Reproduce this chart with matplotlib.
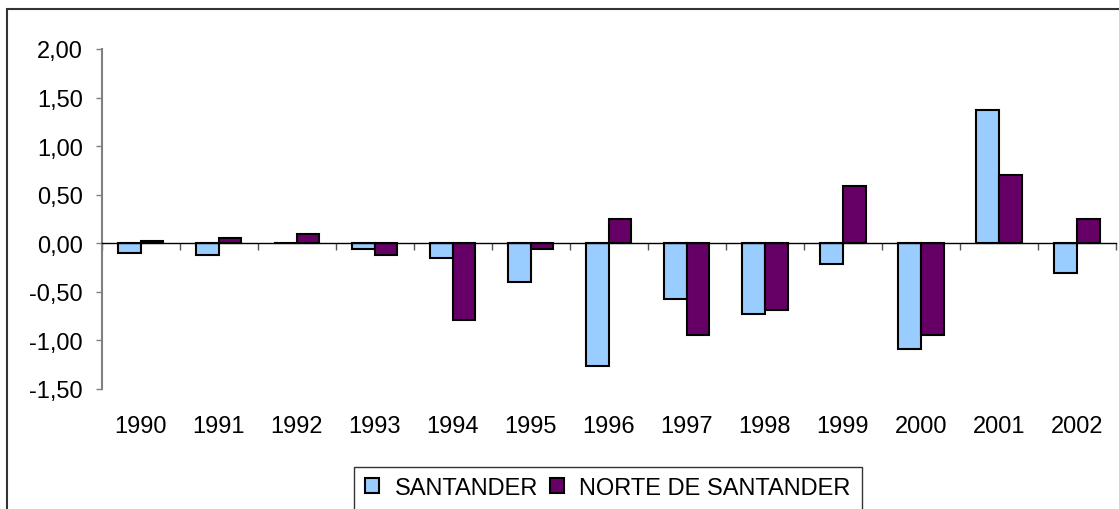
import matplotlib.pyplot as plt
import numpy as np
from matplotlib.patches import Rectangle
from matplotlib.ticker import FuncFormatter, FixedLocator

plt.rcParams['font.family'] = ['Liberation Sans', 'DejaVu Sans']

years = ['1990', '1991', '1992', '1993', '1994', '1995', '1996',
         '1997', '1998', '1999', '2000', '2001', '2002']
santander = [-0.10, -0.12, 0.00, -0.06, -0.155, -0.40, -1.26,
             -0.57, -0.73, -0.215, -1.09, 1.37, -0.31]
norte = [0.02, 0.055, 0.10, -0.12, -0.79, -0.06, 0.25,
         -0.94, -0.69, 0.59, -0.94, 0.70, 0.245]

W, H = 1119, 510
fig = plt.figure(figsize=(W / 100, H / 100), dpi=100)
ax = fig.add_axes([101.7 / W, 1 - 390 / H, (1116 - 101.7) / W, 340 / H])

x = np.arange(len(years))
bw = 0.29
ax.bar(x - bw / 2, santander, bw, color='#99CCFF', edgecolor='black', linewidth=1.5, label='SANTANDER')
ax.bar(x + bw / 2, norte, bw, color='#660066', edgecolor='black', linewidth=1.5, label='NORTE DE SANTANDER')

ax.set_xlim(-0.5, len(years) - 0.5)
ax.set_ylim(-1.5, 2.0)
ax.set_yticks(np.arange(-1.5, 2.01, 0.5))
ax.yaxis.set_major_formatter(FuncFormatter(lambda v, p: f'{v:.2f}'.replace('.', ',')))

for s in ['top', 'right']:
    ax.spines[s].set_visible(False)
ax.spines['left'].set_color('#808080')
ax.spines['left'].set_linewidth(1.5)
ax.spines['bottom'].set_position(('data', 0))
ax.spines['bottom'].set_color('black')
ax.spines['bottom'].set_linewidth(1.0)
ax.spines['bottom'].set_zorder(5)

ax.xaxis.set_major_locator(FixedLocator(np.arange(-0.5, len(years), 1.0)))
ax.tick_params(axis='x', direction='out', length=5, width=1, colors='#555555', labelbottom=False)
ax.tick_params(axis='y', direction='out', length=4.3, width=1, color='#808080',
               labelsize=17, labelcolor='black', pad=9.4)

sec = ax.secondary_xaxis(0.0)
sec.set_xticks(x)
sec.set_xticklabels(years)
sec.tick_params(length=0, labelsize=17, pad=19)
sec.spines['bottom'].set_visible(False)

# outer chart border
fig.patches.append(Rectangle((7 / W, -0.05), 1.2, 1 - 10 / H + 0.05, transform=fig.transFigure,
                             fill=False, edgecolor='#333333', linewidth=1.5, clip_on=False))

# legend with box running off the bottom
fig.patches.append(Rectangle((354 / W, -0.05), 508 / W, 1 - 468 / H + 0.05, transform=fig.transFigure,
                             fill=False, edgecolor='#333333', linewidth=1.0, clip_on=False))
leg = fig.legend(loc='center', bbox_to_anchor=(608 / W, 1 - 489 / H), ncol=2, frameon=False,
                 fontsize=17, handlelength=0.6, handleheight=0.6, handletextpad=0.65,
                 columnspacing=0.5)

fig.savefig('out.png', dpi=100)
